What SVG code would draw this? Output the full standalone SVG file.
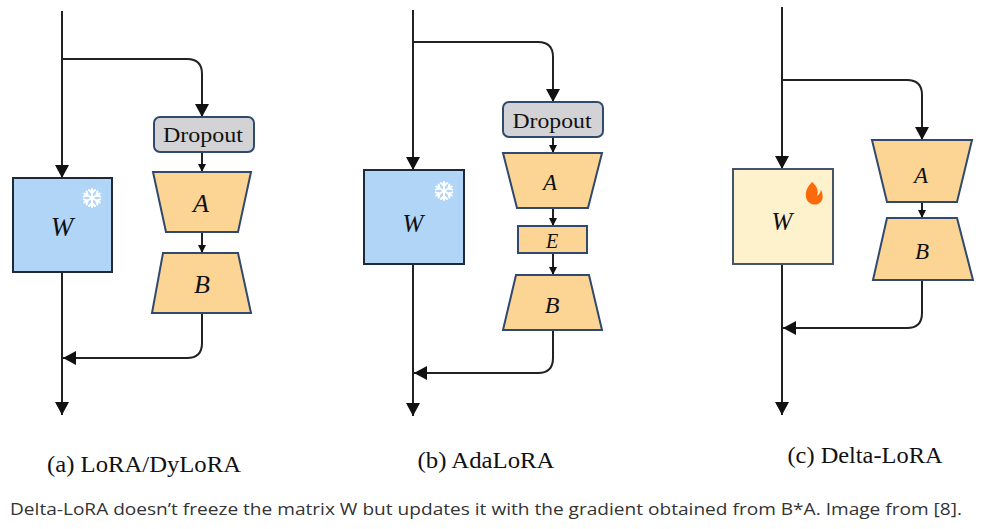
<svg xmlns="http://www.w3.org/2000/svg" width="984" height="529" viewBox="0 0 984 529">
<style>
.ln{fill:none;stroke:#222;stroke-width:2}
.big{marker-end:url(#ah)}
.sm{marker-end:url(#as)}
.wb{fill:#b0d5f6;stroke:#1e2a38;stroke-width:2}
.wc{fill:#fef2cd;stroke:#44546a;stroke-width:2}
.tr{fill:#fcd494;stroke:#2f4a6e;stroke-width:2}
.dp{fill:#d3d3d6;stroke:#2f4a6e;stroke-width:2}
.it{font-family:"Liberation Serif",serif;font-style:italic;fill:#111;text-anchor:middle}
.dt{font-family:"Liberation Serif",serif;fill:#111;text-anchor:middle;font-size:20px}
.lb{font-family:"Liberation Serif",serif;fill:#111;text-anchor:middle;font-size:24px}
.cap{font-family:"Open Sans","Noto Sans",sans-serif;fill:#333;font-size:16px}
.sf{stroke:#fff;stroke-width:2;stroke-linecap:round;fill:none}
</style>
<defs>
<marker id="ah" markerUnits="userSpaceOnUse" markerWidth="14" markerHeight="14" viewBox="0 0 14 14" refX="13" refY="7" orient="auto"><path d="M0,0 L13,7 L0,14 Z" fill="#111"/></marker>
<marker id="as" markerUnits="userSpaceOnUse" markerWidth="8" markerHeight="8" viewBox="0 0 8 8" refX="8" refY="4" orient="auto"><path d="M0,0 L8,4 L0,8 Z" fill="#111"/></marker>
<g id="snow">
<path class="sf" d="M0,-9 V9 M-7.8,-4.5 L7.8,4.5 M-7.8,4.5 L7.8,-4.5"/>
<path class="sf" stroke-width="1.5" d="M-3,-8 L0,-5 L3,-8 M-3,8 L0,5 L3,8 M-8.4,-1.4 L-4.3,-2.5 L-5.4,-6.6 M8.4,1.4 L4.3,2.5 L5.4,6.6 M-8.4,1.4 L-4.3,2.5 L-5.4,6.6 M8.4,-1.4 L4.3,-2.5 L5.4,-6.6"/>
</g>
</defs>

<g id="connectors">
<!-- panel a -->
<path class="ln big" d="M62,11 V178"/>
<path class="ln big" d="M62,59 H187 Q202,59 202,74 V117"/>
<path class="ln sm" d="M202,152 V172"/>
<path class="ln sm" d="M202,232 V253"/>
<path class="ln big" d="M202,313 V343 Q202,358 187,358 H63"/>
<path class="ln big" d="M62,272 V415"/>
<!-- panel b -->
<path class="ln big" d="M413,10 V170"/>
<path class="ln big" d="M413,42 H538 Q553,42 553,57 V102"/>
<path class="ln sm" d="M553,137 V153"/>
<path class="ln sm" d="M553,208 V226"/>
<path class="ln sm" d="M553,253 V275"/>
<path class="ln big" d="M553,330 V358 Q553,373 538,373 H414"/>
<path class="ln big" d="M413,264 V416"/>
<!-- panel c -->
<path class="ln big" d="M782,7 V169"/>
<path class="ln big" d="M782,80 H907 Q922,80 922,95 V140"/>
<path class="ln sm" d="M922,202 V218"/>
<path class="ln big" d="M922,280 V313 Q922,328 907,328 H783"/>
<path class="ln big" d="M782,264 V415"/>
</g>

<g id="a-W"><rect class="wb" x="13" y="178" width="99" height="94"/><use href="#snow" x="92" y="198"/><text class="it" x="62" y="236" font-size="27">W</text></g>
<g id="a-dropout"><rect class="dp" x="154" y="117" width="100" height="35" rx="6"/><text class="dt" x="203" y="142" textLength="80" lengthAdjust="spacingAndGlyphs">Dropout</text></g>
<g id="a-A"><polygon class="tr" points="153,172 251,172 238,232 166,232"/><text class="it" x="201" y="212" font-size="26">A</text></g>
<g id="a-B"><polygon class="tr" points="163,253 238,253 251,313 152,313"/><text class="it" x="202" y="293" font-size="26">B</text></g>

<g id="b-W"><rect class="wb" x="364" y="170" width="100" height="94"/><use href="#snow" x="444" y="191"/><text class="it" x="413" y="232" font-size="25">W</text></g>
<g id="b-dropout"><rect class="dp" x="503" y="102" width="100" height="35" rx="6"/><text class="dt" x="552" y="128" textLength="79" lengthAdjust="spacingAndGlyphs">Dropout</text></g>
<g id="b-A"><polygon class="tr" points="503,153 602,153 588,208 517,208"/><text class="it" x="550" y="190" font-size="23">A</text></g>
<g id="b-E"><rect class="tr" x="518" y="226" width="69" height="27"/><text class="it" x="552" y="248" font-size="20">E</text></g>
<g id="b-B"><polygon class="tr" points="516,275 589,275 602,330 503,330"/><text class="it" x="552" y="313" font-size="24">B</text></g>

<g id="c-W"><rect class="wc" x="733" y="169" width="100" height="95"/>
<path fill="#fa6a0a" d="M812,182 C807,187 805,192 806,197 C807,203 813,206 818,204 C823,202 824,196 821,190 C820,193 819,195 817,196 C819,191 817,186 812,182 Z"/>
<text class="it" x="782" y="230" font-size="25">W</text></g>
<g id="c-A"><polygon class="tr" points="872,140 972,140 957,202 887,202"/><text class="it" x="921" y="183" font-size="23">A</text></g>
<g id="c-B"><polygon class="tr" points="887,218 957,218 973,280 873,280"/><text class="it" x="922" y="259" font-size="23">B</text></g>

<g id="labels">
<text class="lb" x="144" y="472" textLength="194" lengthAdjust="spacingAndGlyphs">(a) LoRA/DyLoRA</text>
<text class="lb" x="486" y="468" textLength="137" lengthAdjust="spacingAndGlyphs">(b) AdaLoRA</text>
<text class="lb" x="865" y="463" textLength="155" lengthAdjust="spacingAndGlyphs">(c) Delta-LoRA</text>
<text class="cap" x="10" y="515" textLength="952" lengthAdjust="spacingAndGlyphs">Delta-LoRA doesn’t freeze the matrix W but updates it with the gradient obtained from B*A. Image from [8].</text>
</g>
</svg>
